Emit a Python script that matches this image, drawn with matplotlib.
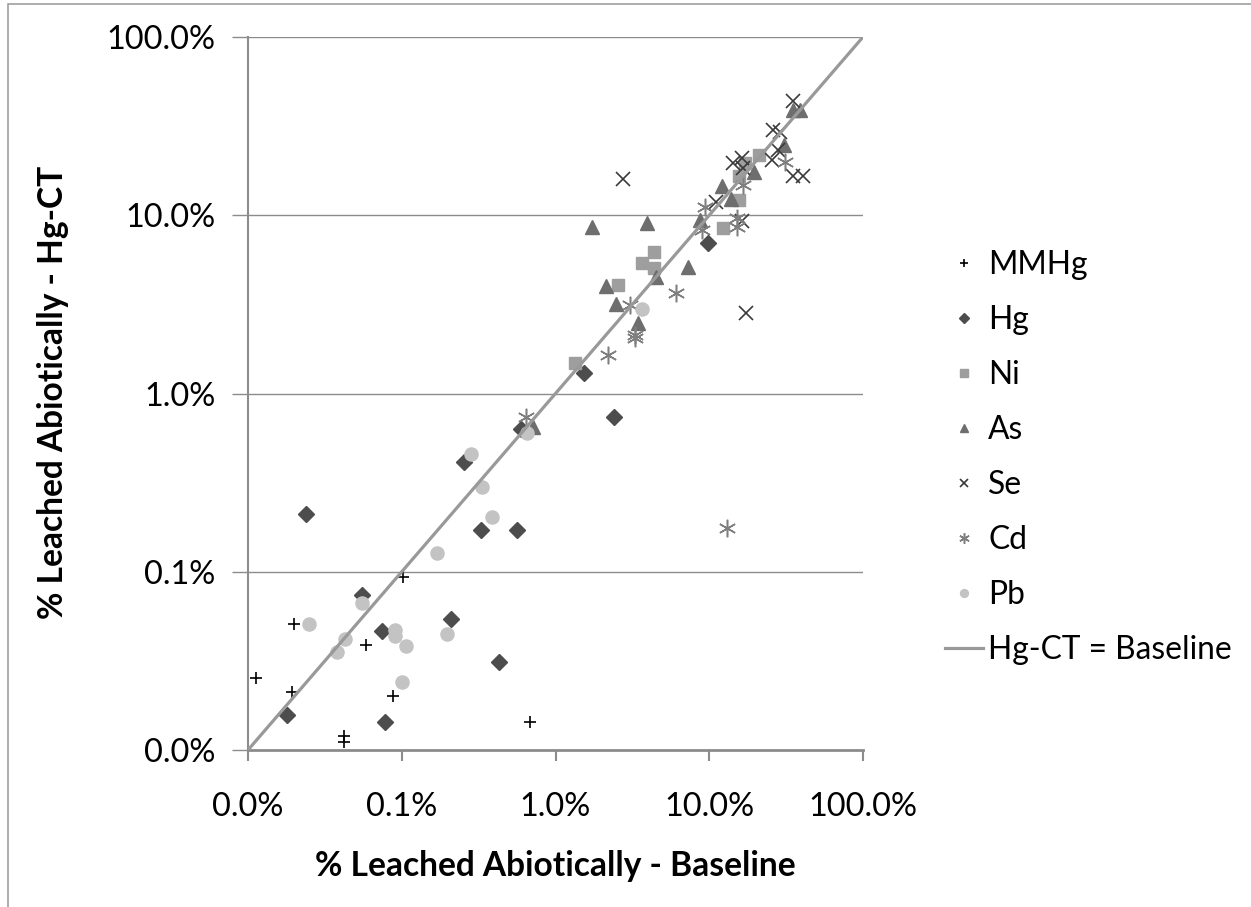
import numpy as np
import matplotlib
matplotlib.use("Agg")
import matplotlib.pyplot as plt
from matplotlib.ticker import FixedLocator, FuncFormatter, NullLocator
from matplotlib.patches import Rectangle

plt.rcParams['font.family'] = ['Lato', 'DejaVu Sans']

# % leached abiotically: baseline (x) vs Hg-CT (y), values in percent
mmhg_x = [0.0113, 0.0192, 0.0199, 0.0421, 0.0421, 0.0585, 0.0873, 0.102, 0.682]
mmhg_y = [0.0254, 0.0212, 0.0507, 0.0120, 0.0111, 0.0388, 0.0201, 0.0931, 0.0144]

hg_x = [0.0237, 0.0180, 0.0551, 0.0746, 0.0778, 0.209, 0.254, 0.326, 0.429,
        0.560, 0.594, 1.53, 2.40, 9.86]
hg_y = [0.211, 0.0157, 0.0741, 0.0467, 0.0143, 0.0541, 0.414, 0.171, 0.0313,
        0.171, 0.632, 1.31, 0.741, 6.96]

ni_x = [1.34, 2.54, 3.64, 4.39, 4.39, 12.3, 15.5, 15.7, 21.1, 17.1]
ni_y = [1.49, 4.06, 5.38, 6.25, 5.04, 8.45, 12.2, 16.5, 21.8, 19.6]

as_x = [0.711, 1.74, 3.92, 2.13, 2.46, 3.43, 4.49, 7.24, 8.71, 12.1, 13.8,
        19.5, 30.6, 35.2, 38.9]
as_y = [0.652, 8.63, 9.01, 4.01, 3.18, 2.48, 4.52, 5.11, 9.40, 14.5, 12.3,
        17.4, 24.8, 38.9, 38.9]

se_x = [2.76, 17.3, 34.9, 26.1, 28.8, 14.3, 16.3, 25.5, 28.1, 35.2, 40.9,
        16.3, 11.1, 16.6]
se_y = [15.9, 2.84, 43.8, 30.1, 29.3, 19.6, 20.9, 20.4, 23.2, 16.5, 16.5,
        9.29, 11.9, 18.4]

cd_x = [0.643, 2.20, 3.29, 3.29, 3.05, 6.08, 9.38, 8.93, 15.1, 15.1, 31.1,
        13.0, 16.6]
cd_y = [0.734, 1.64, 2.13, 2.05, 3.14, 3.65, 11.1, 8.27, 9.71, 8.54, 20.0,
        0.176, 14.8]

pb_x = [0.0251, 0.0381, 0.0428, 0.0553, 0.0908, 0.0908, 0.100, 0.106,
        0.169, 0.196, 0.282, 0.334, 0.388, 0.650, 3.64]
pb_y = [0.0507, 0.0353, 0.0420, 0.0670, 0.0470, 0.0438, 0.0242, 0.0385,
        0.128, 0.0446, 0.456, 0.300, 0.202, 0.598, 2.98]

ticks = [0.01, 0.1, 1, 10, 100]

W, H = 1251, 907
fig = plt.figure(figsize=(W / 100, H / 100), dpi=100)
ax = fig.add_axes([248 / W, 1 - 750 / H, 615 / W, 713 / H])

ms = 9
ax.plot(mmhg_x, mmhg_y, ls='none', marker='+', ms=ms, mew=1.2, color='black', label='MMHg')
ax.plot(hg_x, hg_y, ls='none', marker='D', ms=ms * 0.85, color='#4d4d4d', label='Hg')
ax.plot(ni_x, ni_y, ls='none', marker='s', ms=ms, color='#9e9e9e', label='Ni')
ax.plot(as_x, as_y, ls='none', marker='^', ms=ms * 1.05, color='#6e6e6e', label='As')
ax.plot(se_x, se_y, ls='none', marker='x', ms=ms * 1.15, mew=1.2, color='#3a3a3a', label='Se')
ax.plot(cd_x, cd_y, ls='none', marker=(6, 2, 0), ms=ms * 1.4, mew=1.1, color='#7f7f7f', label='Cd')
ax.plot(pb_x, pb_y, ls='none', marker='o', ms=ms * 1.05, color='#c3c3c3', label='Pb')
ax.plot([0.01, 100], [0.01, 100], color='#999999', lw=2.3, label='Hg-CT = Baseline', zorder=5)

ax.set_xscale('log')
ax.set_yscale('log')
ax.set_xlim(0.01, 100)
ax.set_ylim(0.01, 100)
fmt = FuncFormatter(lambda v, _: f"{v:.1f}%")
for axis in (ax.xaxis, ax.yaxis):
    axis.set_major_locator(FixedLocator(ticks))
    axis.set_minor_locator(NullLocator())
    axis.set_major_formatter(fmt)

ax.grid(axis='y', color='#8c8c8c', lw=1)
ax.set_axisbelow(True)
for s in ('top', 'right'):
    ax.spines[s].set_visible(False)
for s in ('left', 'bottom'):
    ax.spines[s].set_color('#8c8c8c')
ax.spines['bottom'].set_linewidth(2)
ax.spines['left'].set_linewidth(1.5)


def width_px(t):
    fig.canvas.draw()
    return t.get_window_extent().width


# tick labels: "100.0%" is about 109 px wide in the reference
ax.tick_params(axis='both', labelsize=22)
w = width_px(ax.get_xticklabels()[-1])
tsize = 22 * 109 / w
ax.tick_params(axis='x', direction='out', length=8, width=1.5, color='#8c8c8c',
               labelsize=tsize, pad=22)
ax.tick_params(axis='y', direction='out', length=11.5, width=1, color='#8c8c8c',
               labelsize=tsize, pad=12)

# axis titles, same size on both axes
xl = fig.text(555 / W, 1 - 866 / H, '% Leached Abiotically - Baseline', ha='center',
              va='center', fontsize=24, fontweight='bold')
lsize = 24 * 481 / width_px(xl)
xl.set_fontsize(lsize)
fig.text(53 / W, 1 - 392 / H, '% Leached Abiotically - Hg-CT', ha='center', va='center',
         rotation=90, fontsize=lsize, fontweight='bold')


def make_legend(size, spacing, anchor):
    px = size * 100 / 72
    return ax.legend(loc='upper left', bbox_to_anchor=anchor, bbox_transform=fig.transFigure,
                     frameon=False, fontsize=size, markerscale=0.6, borderpad=0,
                     borderaxespad=0, handlelength=38 / px, handletextpad=5 / px,
                     labelspacing=spacing)


anchor = (945 / W, 1 - 240 / H)
leg = make_legend(24, 0.5, anchor)
gsize = 24 * 244 / width_px(leg.get_texts()[-1])
leg = make_legend(gsize, 0.5, anchor)
fig.canvas.draw()
tx = leg.get_texts()
c0 = tx[0].get_window_extent()
c7 = tx[-1].get_window_extent()
pitch = ((c0.y0 + c0.y1) - (c7.y0 + c7.y1)) / 2 / 7
spacing = 0.5 + (55 - pitch) / (gsize * 100 / 72)
leg = make_legend(gsize, spacing, anchor)
fig.canvas.draw()
tx = leg.get_texts()
c0 = tx[0].get_window_extent()
dx = (988 - c0.x0) / W
dy = ((H - 265) - (c0.y0 + c0.y1) / 2) / H
leg = make_legend(gsize, spacing, (anchor[0] + dx, anchor[1] + dy))

fig.patches.append(Rectangle((8 / W, -0.1), 1.2, 1.1 - 4 / H, transform=fig.transFigure,
                             fill=False, edgecolor='#a0a0a0', lw=1.2))

fig.savefig('out.png', dpi=100)
